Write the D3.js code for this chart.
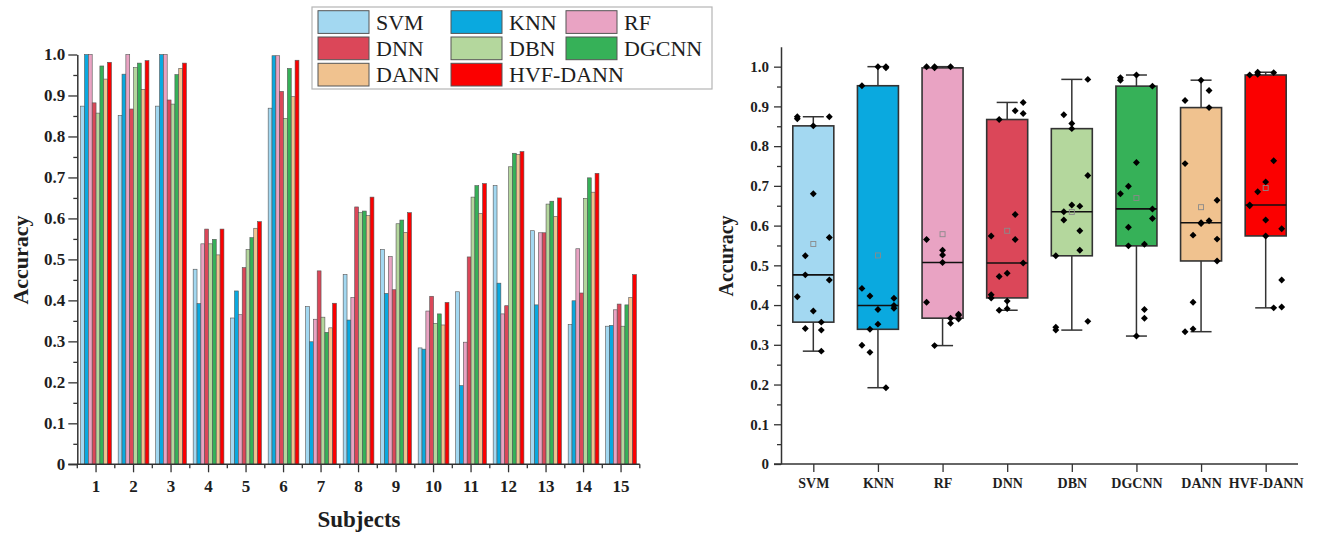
<!DOCTYPE html>
<html>
<head>
<meta charset="utf-8">
<script src="https://cdn.jsdelivr.net/npm/d3@7"></script>
<style>
  body { margin: 0; background: #fff; }
  svg text { font-family: "Liberation Serif", "Times New Roman", serif; fill: #1e1e1e; }
</style>
</head>
<body>
<svg id="chart" width="1318" height="533"></svg>
<script>
// ---- data ----
const methods = ['SVM', 'KNN', 'RF', 'DNN', 'DBN', 'DGCNN', 'DANN', 'HVF-DANN'];
const subjects = [1, 2, 3, 4, 5, 6, 7, 8, 9, 10, 11, 12, 13, 14, 15];
const methodColors = ['#a3d8f1', '#0aa9df', '#e9a3c3', '#db4759', '#b4d79d', '#36b158', '#f0c28f', '#fb0000'];
const yTicks = [0, 0.1, 0.2, 0.3, 0.4, 0.5, 0.6, 0.7, 0.8, 0.9, 1.0];

// accuracy per subject, one array per method
const svmAcc   = [0.874, 0.851, 0.874, 0.476, 0.357, 0.869, 0.385, 0.463, 0.524, 0.284, 0.421, 0.680, 0.570, 0.341, 0.337];
const knnAcc   = [1.000, 0.952, 1.000, 0.392, 0.423, 0.997, 0.299, 0.352, 0.417, 0.281, 0.192, 0.442, 0.389, 0.399, 0.339];
const rfAcc    = [1.000, 1.000, 1.000, 0.538, 0.365, 0.997, 0.354, 0.407, 0.507, 0.374, 0.298, 0.367, 0.565, 0.526, 0.377];
const dnnAcc   = [0.882, 0.867, 0.889, 0.574, 0.480, 0.910, 0.472, 0.628, 0.426, 0.410, 0.506, 0.387, 0.565, 0.418, 0.391];
const dbnAcc   = [0.857, 0.968, 0.879, 0.538, 0.524, 0.844, 0.359, 0.614, 0.587, 0.344, 0.652, 0.726, 0.635, 0.649, 0.337];
const dgcnnAcc = [0.972, 0.979, 0.951, 0.549, 0.553, 0.966, 0.322, 0.618, 0.596, 0.367, 0.680, 0.759, 0.642, 0.699, 0.389];
const dannAcc  = [0.940, 0.915, 0.966, 0.511, 0.576, 0.897, 0.333, 0.607, 0.566, 0.340, 0.612, 0.756, 0.605, 0.664, 0.407];
const hvfAcc   = [0.981, 0.985, 0.979, 0.574, 0.592, 0.986, 0.393, 0.652, 0.614, 0.395, 0.685, 0.763, 0.650, 0.710, 0.463];

const accByMethod = [svmAcc, knnAcc, rfAcc, dnnAcc, dbnAcc, dgcnnAcc, dannAcc, hvfAcc];

const svg = d3.select('#chart');
const axisColor = '#333';
const color = d3.scaleOrdinal().domain(methods).range(methodColors);
const fmt = d => d === 0 ? '0' : d3.format('.1f')(d);

function styleAxis(g, fontSize) {
    g.select('.domain').attr('stroke', axisColor).attr('stroke-width', 1.5);
    g.selectAll('.tick line').attr('stroke', axisColor).attr('stroke-width', 1.3);
    g.selectAll('.tick text').attr('font-size', fontSize).attr('font-weight', 'bold')
        .attr('font-family', '"Liberation Serif", serif').attr('fill', '#1e1e1e');
}

// =========== LEFT : grouped bars per subject ===========
const x0 = d3.scaleBand().domain(subjects).range([77.3, 639.8]).paddingInner(0.18).paddingOuter(0.09);
const x1 = d3.scaleBand().domain(methods).range([0, x0.bandwidth()]);
const yL = d3.scaleLinear().domain([0, 1]).range([464.3, 54.5]);

const groups = svg.append('g').selectAll('g').data(subjects).join('g')
    .attr('transform', d => `translate(${x0(d)},0)`);

groups.selectAll('rect')
    .data((s, i) => methods.map((m, k) => ({ m: m, v: accByMethod[k][i] })))
    .join('rect')
    .attr('x', d => x1(d.m))
    .attr('y', d => yL(d.v))
    .attr('width', x1.bandwidth())
    .attr('height', d => yL(0) - yL(d.v))
    .attr('fill', d => color(d.m))
    .attr('stroke', '#555')
    .attr('stroke-width', 0.6);

// y axis (major + minor)
svg.append('g').attr('transform', `translate(${x0.range()[0]},0)`)
    .call(d3.axisLeft(yL).tickValues(yTicks).tickFormat(fmt).tickSize(9).tickSizeOuter(0).tickPadding(3))
    .call(g => styleAxis(g, 17));
svg.append('g').attr('transform', `translate(${x0.range()[0]},0)`)
    .call(d3.axisLeft(yL).tickValues(yTicks.slice(1).map(t => t - 0.05)).tickFormat('').tickSize(4))
    .call(g => g.select('.domain').remove())
    .call(g => styleAxis(g, 17));

// x axis
svg.append('g').attr('transform', `translate(0,${yL(0)})`)
    .call(d3.axisBottom(x0).tickSize(8).tickSizeOuter(0).tickPadding(8))
    .call(g => g.select('.domain').remove())
    .call(g => styleAxis(g, 17));
svg.append('line')
    .attr('x1', x0.range()[0] - 9).attr('x2', x0.range()[1])
    .attr('y1', yL(0)).attr('y2', yL(0))
    .attr('stroke', axisColor).attr('stroke-width', 1.5);
svg.append('g').selectAll('line').data(d3.range(subjects.length + 1)).join('line')
    .attr('x1', k => x0.range()[0] + k * x0.step())
    .attr('x2', k => x0.range()[0] + k * x0.step())
    .attr('y1', yL(0)).attr('y2', yL(0) + 4)
    .attr('stroke', axisColor).attr('stroke-width', 1.3);

svg.append('text')
    .attr('transform', 'translate(28,260) rotate(-90)')
    .attr('text-anchor', 'middle').attr('font-size', 22).attr('font-weight', 'bold')
    .text('Accuracy');
svg.append('text')
    .attr('x', 359).attr('y', 527)
    .attr('text-anchor', 'middle').attr('font-size', 23).attr('font-weight', 'bold')
    .text('Subjects');

// legend
const legend = svg.append('g').attr('transform', 'translate(312,7)');
legend.append('rect').attr('width', 400).attr('height', 82)
    .attr('fill', '#fff').attr('stroke', '#b5b5b5').attr('stroke-width', 1.2);
const legCols = [6, 139, 254];
const legItems = legend.selectAll('g.item').data(methods).join('g')
    .attr('class', 'item')
    .attr('transform', (d, i) => `translate(${legCols[i % 3]},${3.7 + Math.floor(i / 3) * 26.3})`);
legItems.append('rect').attr('width', 51).attr('height', 22.7)
    .attr('fill', d => color(d)).attr('stroke', '#555').attr('stroke-width', 1);
legItems.append('text').attr('x', 58).attr('y', 19).attr('font-size', 22).text(d => d);

// =========== RIGHT : box plots per method ===========
const xR = d3.scalePoint().domain(methods).range([781, 1298]).padding(0.5);
const yR = d3.scaleLinear().domain([0, 1.05]).range([464, 46.8]);
const boxW = 41, capW = 21;

// quantile on sorted values, (n+1)p rule
function quant(s, p) {
    const h = (s.length + 1) * p;
    const lo = Math.max(1, Math.min(s.length, Math.floor(h)));
    const hi = Math.min(s.length, lo + 1);
    return s[lo - 1] + (h - lo) * (s[hi - 1] - s[lo - 1]);
}

const stats = methods.map((m, k) => {
    const s = accByMethod[k].slice().sort(d3.ascending);
    return {
        m: m, k: k,
        min: s[0], max: s[s.length - 1],
        q1: quant(s, 0.25), med: quant(s, 0.5), q3: quant(s, 0.75),
        mean: d3.mean(s)
    };
});

const boxes = svg.append('g').selectAll('g').data(stats).join('g')
    .attr('transform', d => `translate(${xR(d.m)},0)`);

boxes.append('line').attr('y1', d => yR(d.min)).attr('y2', d => yR(d.max))
    .attr('stroke', axisColor).attr('stroke-width', 1.5);
boxes.append('line').attr('x1', -capW / 2).attr('x2', capW / 2)
    .attr('y1', d => yR(d.min)).attr('y2', d => yR(d.min))
    .attr('stroke', axisColor).attr('stroke-width', 1.5);
boxes.append('line').attr('x1', -capW / 2).attr('x2', capW / 2)
    .attr('y1', d => yR(d.max)).attr('y2', d => yR(d.max))
    .attr('stroke', axisColor).attr('stroke-width', 1.5);
boxes.append('rect').attr('x', -boxW / 2).attr('width', boxW)
    .attr('y', d => yR(d.q3)).attr('height', d => yR(d.q1) - yR(d.q3))
    .attr('fill', d => color(d.m)).attr('stroke', axisColor).attr('stroke-width', 1.6);
boxes.append('line').attr('x1', -boxW / 2).attr('x2', boxW / 2)
    .attr('y1', d => yR(d.med)).attr('y2', d => yR(d.med))
    .attr('stroke', '#111').attr('stroke-width', 1.6);
boxes.append('rect').attr('x', -2.5).attr('width', 5).attr('height', 5)
    .attr('y', d => yR(d.mean) - 2.5)
    .attr('fill', 'none').attr('stroke', '#8a8a8a').attr('stroke-width', 0.9);

// data points, spread sideways by subject index
const diamond = d3.symbol().type(d3.symbolSquare).size(24);
boxes.selectAll('path.pt')
    .data(d => accByMethod[d.k].map((v, i) => ({ v: v, dx: ((i * 7 + d.k * 3) % 5 - 2) * 8 })))
    .join('path')
    .attr('class', 'pt')
    .attr('d', diamond)
    .attr('transform', d => `translate(${d.dx},${yR(d.v)}) rotate(45)`)
    .attr('fill', '#000');

// axes
svg.append('g').attr('transform', 'translate(781,0)')
    .call(d3.axisLeft(yR).tickValues(yTicks).tickFormat(fmt).tickSize(7).tickSizeOuter(0).tickPadding(5))
    .call(g => styleAxis(g, 15));
svg.append('g').attr('transform', 'translate(781,0)')
    .call(d3.axisLeft(yR).tickValues(yTicks.slice(1).map(t => t - 0.05)).tickFormat('').tickSize(4))
    .call(g => g.select('.domain').remove())
    .call(g => styleAxis(g, 15));
svg.append('g').attr('transform', `translate(0,${yR(0)})`)
    .call(d3.axisBottom(xR).tickSize(8).tickSizeOuter(0).tickPadding(6))
    .call(g => g.select('.domain').remove())
    .call(g => styleAxis(g, 14));
svg.append('line')
    .attr('x1', 774).attr('x2', 1298)
    .attr('y1', yR(0)).attr('y2', yR(0))
    .attr('stroke', axisColor).attr('stroke-width', 1.5);

svg.append('text')
    .attr('transform', 'translate(733,256) rotate(-90)')
    .attr('text-anchor', 'middle').attr('font-size', 20).attr('font-weight', 'bold')
    .text('Accuracy');
</script>
</body>
</html>
